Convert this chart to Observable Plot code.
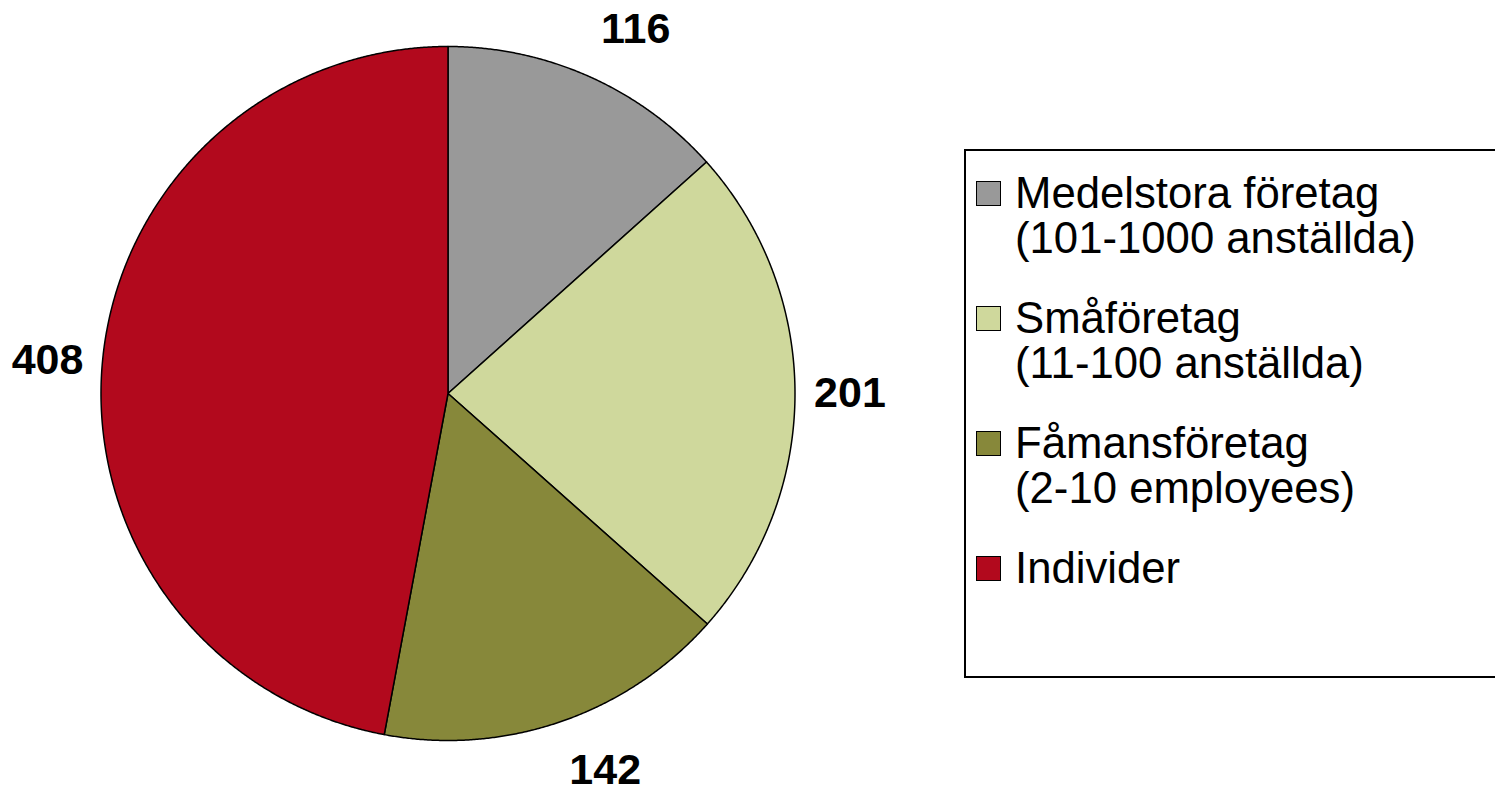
<!DOCTYPE html>
<html>
<head>
<meta charset="utf-8">
<script src="https://cdn.jsdelivr.net/npm/d3@7"></script>
<script src="https://cdn.jsdelivr.net/npm/@observablehq/plot@0.6"></script>
<style>
  body { margin: 0; background: #fff; font-family: "Liberation Sans", Arial, sans-serif; }
  #wrap { position: relative; width: 1495px; height: 790px; overflow: hidden; }
  #chart { position: absolute; left: 0; top: 0; }
  #legend { position: absolute; left: 964px; top: 149px; width: 580px; height: 529px;
            box-sizing: border-box; border: 2px solid #000; background: #fff; }
  .entry { position: absolute; left: 0; width: 560px; height: 90px; }
  .sw { position: absolute; left: 10px; top: 11.4px; width: 25px; height: 25px;
        box-sizing: border-box; border: 1.5px solid #000; }
  .lt { position: absolute; left: 49px; top: 0; font-size: 43.7px; line-height: 45px;
        white-space: pre; color: #000; }
</style>
</head>
<body>
<div id="wrap">
  <div id="chart"></div>
  <div id="legend"></div>
</div>
<script>
// ---- data ----
const categories = ["Medelstora företag", "Småföretag", "Fåmansföretag", "Individer"];
const legendLabels = [
  "Medelstora företag\n(101-1000 anställda)",
  "Småföretag\n(11-100 anställda)",
  "Fåmansföretag\n(2-10 employees)",
  "Individer"
];
const values = [116, 201, 142, 408];
const colors = ["#999999", "#CFD89C", "#87883A", "#B2091D"];

// ---- layout constants ----
const W = 1495, H = 790;
const CX = 447.5, CY = 393, R = 347;

// ---- pie geometry (data space: unit circle) ----
const arcs = d3.pie().sort(null).value(d => d)(values);
const slicePts = [];
arcs.forEach((a, i) => {
  const name = categories[i];
  slicePts.push({name, x: 0, y: 0});
  const n = Math.max(2, Math.ceil((a.endAngle - a.startAngle) / (Math.PI / 720)));
  for (let k = 0; k <= n; k++) {
    const t = a.startAngle + (a.endAngle - a.startAngle) * k / n;
    slicePts.push({name, x: Math.sin(t), y: Math.cos(t)});
  }
});

// label positions (outside end)
const rg = 362, hw = 40, hh = 34;
const labels = arcs.map((a, i) => {
  const m = (a.startAngle + a.endAngle) / 2;
  const sx = Math.sin(m), sy = Math.cos(m);
  const ox = Math.abs(sx) > 0.3 ? Math.sign(sx) * hw : 0;
  const oy = Math.abs(sy) > 0.5 ? Math.sign(sy) * hh : 0;
  return {
    text: String(values[i]),
    x: (sx * rg + ox) / R,
    y: (sy * rg + oy) / R
  };
});

const plot = Plot.plot({
  width: W,
  height: H,
  margin: 0,
  style: { fontFamily: "Liberation Sans, Arial, sans-serif", background: "transparent", overflow: "visible" },
  x: { domain: [-1, 1], range: [CX - R, CX + R], axis: null },
  y: { domain: [-1, 1], range: [CY + R, CY - R], axis: null },
  color: { domain: categories, range: colors },
  marks: [
    Plot.line(slicePts, {
      x: "x", y: "y", z: "name", fill: "name",
      stroke: "#000", strokeWidth: 1.5, strokeLinejoin: "round",
      curve: "linear-closed"
    }),
    Plot.text(labels, {
      x: "x", y: "y", text: "text",
      fontSize: 43, fontWeight: "bold", fill: "#000",
      textAnchor: "middle", lineAnchor: "middle"
    })
  ]
});
document.getElementById("chart").appendChild(plot);

// ---- legend (HTML) ----
const legend = document.getElementById("legend");
categories.forEach((c, i) => {
  const e = document.createElement("div");
  e.className = "entry";
  e.style.top = (18.6 + 125 * i) + "px";
  const sw = document.createElement("div");
  sw.className = "sw";
  sw.style.background = colors[i];
  const lt = document.createElement("div");
  lt.className = "lt";
  lt.textContent = legendLabels[i];
  e.appendChild(sw);
  e.appendChild(lt);
  legend.appendChild(e);
});
</script>
</body>
</html>
